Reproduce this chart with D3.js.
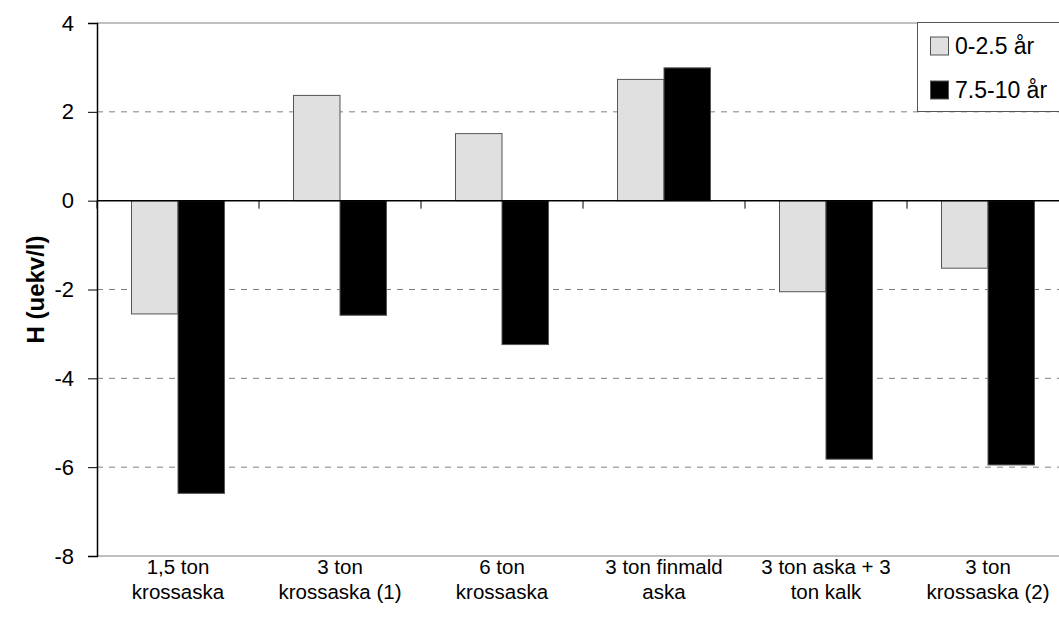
<!DOCTYPE html>
<html><head><meta charset="utf-8">
<script src="https://cdn.jsdelivr.net/npm/d3@7"></script>
<style>body{margin:0;background:#fff;} svg{display:block;font-family:"Liberation Sans",Arial,sans-serif;}</style>
</head><body>
<svg id="c" width="1059" height="637"></svg>
<script>
const categories = [["1,5 ton","krossaska"],["3 ton","krossaska (1)"],["6 ton","krossaska"],["3 ton finmald","aska"],["3 ton aska + 3","ton kalk"],["3 ton","krossaska (2)"]];
const seriesNames = ["0-2.5 år","7.5-10 år"];
const series1 = [-2.55, 2.37, 1.51, 2.73, -2.05, -1.52];
const series2 = [-6.59, -2.58, -3.24, 2.99, -5.82, -5.95];
const yTicks = [4, 2, 0, -2, -4, -6, -8];
const colors = ["#e0e0e0", "#000000"];

const svg = d3.select("#c");
const L = 97, R = 1069, T = 23, B = 556;
const x = d3.scaleBand().domain(d3.range(categories.length)).range([L, R]).paddingInner(0.426).paddingOuter(0.213);
const xs = d3.scaleBand().domain([0,1]).range([0, x.bandwidth()]);
const y = d3.scaleLinear().domain([-8, 4]).range([B, T]);

// plot border
svg.append("line").attr("x1",L).attr("x2",R).attr("y1",T).attr("y2",T).attr("stroke","#808080");
svg.append("line").attr("x1",L).attr("x2",R).attr("y1",B).attr("y2",B).attr("stroke","#808080");
// grid
yTicks.filter(t => t !== 0 && t !== 4 && t !== -8).forEach(t => {
  svg.append("line").attr("x1",L).attr("x2",R).attr("y1",y(t)).attr("y2",y(t))
    .attr("stroke","#808080").attr("stroke-dasharray","6,6");
});

// bars
const data = [series1, series2];
data.forEach((s, si) => {
  svg.selectAll(".b"+si).data(s).enter().append("rect")
    .attr("x", (d,i) => x(i) + xs(si))
    .attr("width", xs.bandwidth())
    .attr("y", d => y(Math.max(0,d)))
    .attr("height", d => Math.abs(y(d) - y(0)))
    .attr("fill", colors[si])
    .attr("stroke", "#555").attr("stroke-width", 1);
});

// zero axis with category ticks
const xAxisG = svg.append("g");
xAxisG.append("line").attr("x1",L).attr("x2",R).attr("y1",y(0)).attr("y2",y(0)).attr("stroke","#000").attr("stroke-width",1.5);
d3.range(categories.length + 1).forEach(i => {
  const xx = L + i * x.step();
  xAxisG.append("line").attr("x1",xx).attr("x2",xx).attr("y1",y(0)).attr("y2",y(0)+8).attr("stroke","#000");
});

// y axis
const yAxis = svg.append("g").attr("transform",`translate(${L},0)`)
  .call(d3.axisLeft(y).tickValues(yTicks).tickSize(9).tickPadding(14).tickFormat(d => String(d)));
yAxis.attr("font-size",null).attr("font-family",null);
yAxis.select(".domain").attr("stroke","#000").attr("stroke-width",1.5);
yAxis.selectAll("text").style("font-size","22px").attr("fill","#000");
yAxis.selectAll(".tick line").attr("stroke","#000");

// category labels
categories.forEach((c, i) => {
  const cx = x(i) + x.bandwidth()/2;
  const t = svg.append("text").attr("text-anchor","middle").style("font-size","20.5px").attr("fill","#000");
  t.append("tspan").attr("x",cx).attr("y",574).text(c[0]);
  t.append("tspan").attr("x",cx).attr("y",599).text(c[1]);
});

// y title
svg.append("text").attr("transform",`translate(44,${(T+B)/2}) rotate(-90)`)
  .attr("text-anchor","middle").style("font-size","24px").attr("font-weight","bold").text("H (uekv/l)");

// legend
const lg = svg.append("g");
lg.append("rect").attr("x",917.5).attr("y",22.5).attr("width",200).attr("height",89).attr("fill","#fff").attr("stroke","#555");
seriesNames.forEach((n, i) => {
  const yy = 46 + i*44;
  lg.append("rect").attr("x",930.5).attr("y",yy-9).attr("width",18).attr("height",18).attr("fill",colors[i]).attr("stroke","#555");
  lg.append("text").attr("x",955).attr("y",yy+8).style("font-size","23px").text(n);
});
</script>
</body></html>
